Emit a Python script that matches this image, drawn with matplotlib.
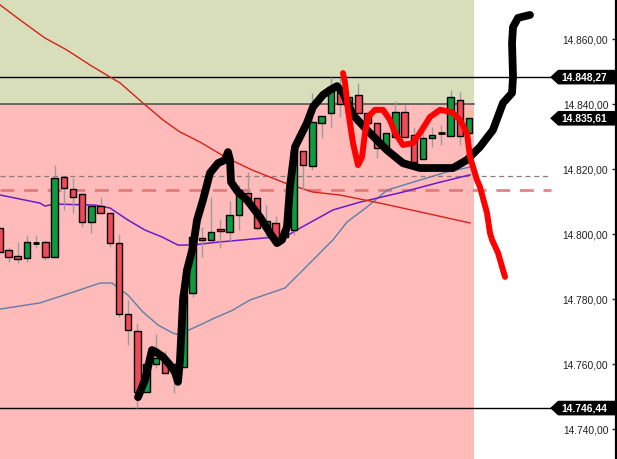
import matplotlib
matplotlib.use("Agg")
import matplotlib.pyplot as plt
from matplotlib.patches import Rectangle, Polygon
from matplotlib.transforms import blended_transform_factory

# ---------------- data ----------------
opens = [14801.8, 14795.1, 14793.2, 14792.6, 14797.2, 14797.5, 14792.9, 14817.5, 14813.8, 14812.3,
         14803.7, 14808.6, 14806.5, 14797.2, 14775.4, 14770.2, 14751.4, 14760.0, 14761.8, 14757.5,
         14759.1, 14781.8, 14798.8, 14798.2, 14801.5, 14800.6, 14805.8, 14812.6, 14811.1, 14801.8,
         14803.4, 14799.1, 14801.2, 14825.5, 14820.9, 14834.2, 14837.2, 14843.7, 14837.2, 14842.8,
         14837.2, 14834.2, 14826.2, 14829.8, 14837.5, 14830.5, 14823.1, 14829.5, 14831.1, 14830.2,
         14841.2, 14831.1]
highs = [14802.8, 14796.0, 14797.5, 14799.7, 14799.7, 14798.2, 14821.2, 14817.5, 14817.2, 14812.3,
         14808.6, 14811.4, 14806.5, 14800.0, 14779.7, 14772.6, 14760.0, 14769.2, 14764.0, 14760.0,
         14781.5, 14799.1, 14802.2, 14811.4, 14804.6, 14810.2, 14815.1, 14819.1, 14811.1, 14808.9,
         14805.5, 14807.4, 14825.5, 14825.5, 14843.4, 14836.3, 14848.3, 14848.0, 14842.2, 14846.5,
         14837.2, 14834.2, 14831.1, 14840.9, 14839.7, 14832.9, 14832.9, 14832.9, 14833.5, 14844.3,
         14843.7, 14835.61]
lows = [14793.8, 14791.4, 14791.1, 14791.4, 14795.7, 14792.0, 14792.9, 14807.4, 14806.5, 14802.2,
        14800.3, 14806.5, 14796.0, 14774.5, 14765.8, 14746.5, 14751.4, 14758.8, 14757.2, 14751.1,
        14759.1, 14780.5, 14792.9, 14798.2, 14795.7, 14797.5, 14801.2, 14810.8, 14801.2, 14799.1,
        14798.2, 14799.1, 14799.7, 14813.5, 14819.7, 14829.5, 14832.9, 14836.0, 14837.2, 14837.2,
        14834.2, 14823.4, 14826.2, 14829.8, 14829.8, 14822.2, 14823.1, 14826.8, 14827.4, 14830.2,
        14827.4, 14831.1]
closes = [14794.5, 14792.9, 14792.3, 14797.5, 14797.2, 14792.9, 14817.2, 14814.2, 14811.4, 14803.7,
          14808.6, 14806.5, 14797.2, 14775.4, 14770.5, 14751.4, 14760.0, 14761.8, 14757.2, 14760.0,
          14781.5, 14799.1, 14798.2, 14800.6, 14800.9, 14805.8, 14813.5, 14810.8, 14801.8, 14804.0,
          14798.2, 14801.2, 14825.5, 14821.2, 14834.5, 14836.3, 14845.2, 14840.0, 14842.2, 14837.2,
          14834.2, 14826.5, 14831.1, 14837.5, 14829.8, 14822.2, 14829.5, 14830.5, 14831.1, 14842.2,
          14830.2, 14835.61]

# moving averages (x = candle index, y = price)
ma_red_x = [0.08, 2.57, 4.96, 7.35, 9.85, 12.02, 13.11, 15.60, 17.77, 19.62, 21.79, 24.72, 27.44,
            31.02, 34.06, 37.00, 41.34, 45.68, 51.11]
ma_red_y = [14870.5, 14865.2, 14860.3, 14856.6, 14852.0, 14848.3, 14846.5, 14840.3, 14835.1, 14831.4,
            14828.3, 14823.4, 14819.7, 14815.7, 14812.9, 14812.0, 14809.5, 14806.8, 14803.4]
ma_purple_x = [0.08, 4.42, 4.96, 6.05, 10.39, 12.02, 13.97, 15.82, 17.66, 19.40, 20.92, 23.75, 28.85,
               31.02, 32.65, 36.23, 39.16, 43.83, 47.52, 51.11]
ma_purple_y = [14812.0, 14809.5, 14808.6, 14809.2, 14808.9, 14808.0, 14804.3, 14801.2, 14799.1, 14796.6,
               14796.6, 14797.5, 14798.8, 14799.1, 14801.8, 14807.4, 14809.8, 14812.9, 14815.7, 14818.2]
ma_blue_x = [0.08, 4.42, 7.68, 10.93, 12.24, 13.97, 15.60, 17.23, 18.86, 19.62, 20.38, 21.79, 23.42,
             25.37, 27.22, 29.39, 31.02, 32.65, 36.23, 37.76, 39.92, 42.10, 45.68, 48.61, 51.11]
ma_blue_y = [14776.9, 14778.8, 14781.8, 14784.9, 14784.9, 14781.2, 14776.0, 14772.0, 14769.5, 14768.9,
             14770.2, 14772.0, 14774.2, 14776.6, 14779.7, 14781.8, 14783.4, 14788.0, 14798.2, 14803.7,
             14808.3, 14813.5, 14816.6, 14819.1, 14820.6]

# hand-drawn scenario paths
black_x = [15.06, 15.82, 16.58, 17.01, 17.77, 18.53, 19.08, 19.40, 19.62, 19.95, 20.38, 21.03, 21.47,
           22.12, 22.88, 23.75, 24.51, 24.83, 25.05, 25.16, 25.92, 26.89, 28.31, 29.39, 30.15, 30.69,
           31.24, 31.56, 32.11, 33.41, 34.06, 35.15, 35.91, 36.67, 37.32, 38.41, 39.92, 42.10, 43.83,
           45.68, 49.26, 50.78, 52.19, 53.60, 54.69, 55.67, 55.78, 55.67, 55.78, 56.32, 57.62]
black_y = [14749.8, 14755.1, 14764.3, 14763.7, 14762.2, 14759.7, 14757.5, 14754.5, 14761.2, 14779.7,
           14788.9, 14796.0, 14804.3, 14810.5, 14818.8, 14821.8, 14822.8, 14825.2, 14822.8, 14816.0,
           14812.9, 14810.5, 14805.2, 14800.3, 14797.2, 14798.2, 14802.2, 14814.5, 14826.8, 14834.2,
           14839.1, 14842.8, 14844.3, 14845.5, 14843.4, 14836.6, 14832.0, 14825.8, 14821.8, 14820.3,
           14820.3, 14822.8, 14826.8, 14832.0, 14840.3, 14843.4, 14848.3, 14858.8, 14863.7, 14866.5,
           14867.4]
red_x = [37.32, 37.54, 37.86, 38.40, 38.95, 39.38, 39.71, 40.03, 40.79, 41.66, 42.42, 42.97, 43.83,
         44.92, 45.68, 46.76, 47.85, 49.15, 50.02, 50.78, 51.11, 51.87, 52.19, 52.95, 53.28, 53.50,
         54.15, 54.69, 54.91]
red_y = [14849.5, 14846.5, 14838.2, 14828.0, 14821.2, 14823.7, 14831.1, 14836.0, 14838.2, 14838.2,
         14835.1, 14831.1, 14827.4, 14828.0, 14831.1, 14836.0, 14838.2, 14837.5, 14835.1, 14831.1,
         14823.7, 14816.6, 14814.5, 14806.5, 14800.3, 14798.2, 14794.2, 14788.9, 14786.8]

zone_split = 14840.0
zone_end = 51.54
level_high = 14848.27
level_low = 14746.44
last_price = 14835.61
dash_grey = 14817.8
dash_red = 14813.4
line_end = 59.85

yticks = [14740, 14760, 14780, 14800, 14820, 14840, 14860]
ytick_labels = ["14.740,00", "14.760,00", "14.780,00", "14.800,00", "14.820,00", "14.840,00", "14.860,00"]
badge_values = [level_high, last_price, level_low]
badge_labels = ["14.848,27", "14.835,61", "14.746,44"]

# ---------------- figure ----------------
plt.rcParams['font.family'] = ['Liberation Sans', 'DejaVu Sans']
fig = plt.figure(figsize=(6.17, 4.59), dpi=100)
ax = fig.add_axes([0, 0, 616 / 617, 1])
X0, X1 = 0.077, 66.96
Y0, Y1 = 14730.77, 14872.0
ax.set_xlim(X0, X1)
ax.set_ylim(Y0, Y1)
ax.set_facecolor("white")

# zones
ax.add_patch(Rectangle((X0, zone_split), zone_end - X0, Y1 - zone_split, facecolor="#d8ddba",
                       edgecolor="none", zorder=0))
ax.add_patch(Rectangle((X0, Y0), zone_end - X0, zone_split - Y0, facecolor="#ffbaba",
                       edgecolor="none", zorder=0))
ax.plot([X0, zone_end], [zone_split, zone_split], color="#4a4a4a", lw=1.1, zorder=1)

# level lines
ax.plot([X0, line_end], [level_high, level_high], color="black", lw=1.0, zorder=2)
ax.plot([X0, line_end], [level_low, level_low], color="black", lw=1.0, zorder=2)
ax.plot([X0, line_end], [dash_grey, dash_grey], color="#8a7a7a", lw=0.9, dashes=(4, 3), zorder=2)
ax.plot([X0, line_end], [dash_red, dash_red], color="#e07070", lw=2.0, dashes=(5, 3.5), zorder=2,
        alpha=0.85)

# moving averages
ax.plot(ma_blue_x, ma_blue_y, color="#5b7fa6", lw=1.0, zorder=3)
ax.plot(ma_purple_x, ma_purple_y, color="#6a1ccc", lw=1.1, zorder=3)
ax.plot(ma_red_x, ma_red_y, color="#d42318", lw=1.0, zorder=3)

# highlight of the last candle
n = len(opens)
last = n - 1
ax.add_patch(Rectangle((last - 0.45, min(opens[last], closes[last]) - 0.8), 0.9,
                       abs(closes[last] - opens[last]) + 3.0, facecolor="#e8c49c",
                       edgecolor="none", alpha=0.8, zorder=3.5))

# candles
bw = 0.7
for i in range(n):
    o, h, l, c = opens[i], highs[i], lows[i], closes[i]
    ax.plot([i, i], [l, h], color="#9c9c9c", lw=1.0, zorder=4, solid_capstyle="butt")
    if abs(c - o) < 0.05:
        ax.plot([i - bw / 2, i + bw / 2], [o, o], color="black", lw=2.0, zorder=5,
                solid_capstyle="butt")
    else:
        col = "#0f9a3c" if c > o else "#f04a58"
        ax.add_patch(Rectangle((i - bw / 2, min(o, c)), bw, abs(c - o), facecolor=col,
                               edgecolor="black", lw=1.0, zorder=5))

# hand-drawn scenario lines
ax.plot(black_x, black_y, color="black", lw=5.6, zorder=7, solid_capstyle="round",
        solid_joinstyle="round")
ax.plot(red_x, red_y, color="#ff0000", lw=4.3, zorder=8, solid_capstyle="round",
        solid_joinstyle="round")

# axis
for s in ["left", "top", "bottom"]:
    ax.spines[s].set_visible(False)
ax.spines["right"].set_linewidth(1.6)
ax.spines["right"].set_color("black")
ax.set_xticks([])
ax.yaxis.tick_right()
ax.set_yticks(yticks)
ax.set_yticklabels(ytick_labels)
ax.tick_params(axis="y", direction="in", length=3, width=1, pad=-5.5, labelsize=7.4,
               labelcolor="#222222", color="#222222")
plt.setp(ax.get_yticklabels(), ha="right")

# price badges
tr = blended_transform_factory(ax.transAxes, ax.transData)
for v, lab in zip(badge_values, badge_labels):
    hh = 2.25
    poly = Polygon([(0.893, v), (0.906, v + hh), (1.0, v + hh), (1.0, v - hh), (0.906, v - hh)],
                   closed=True, transform=tr, facecolor="black", edgecolor="none", zorder=9,
                   clip_on=False)
    ax.add_patch(poly)
    ax.text(0.986, v, lab, transform=tr, ha="right", va="center", color="white",
            fontsize=7.4, fontweight="bold", zorder=10)

fig.savefig("out.png", dpi=100)
